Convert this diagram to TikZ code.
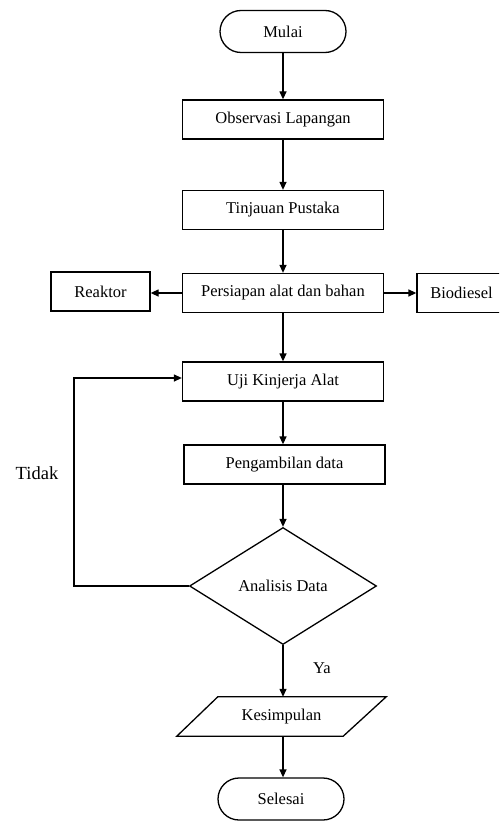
\documentclass[tikz,border=0pt]{standalone}
\usepackage{fontspec}
\setmainfont{Liberation Serif}
\newfontfamily\tnr{Liberation Serif}
\usetikzlibrary{arrows.meta,shapes.geometric}
\begin{document}
\begin{tikzpicture}[x=1pt,y=-1pt,
  every node/.style={font=\tnr\fontsize{16.5}{18}\selectfont},
  box/.style={draw,line width=1.3pt,minimum width=201pt,minimum height=39pt,inner sep=0pt},
  term/.style={draw,line width=1.3pt,rounded corners=21pt,minimum width=126pt,minimum height=42pt,inner sep=0pt},
  arr/.style={line width=1.3pt,-{Triangle[length=8pt,width=7pt]}},
  ln/.style={line width=1.3pt}]
\useasboundingbox (0,0) rectangle (499,821);
\clip (0,0) rectangle (499,821);
\node[term] (mulai) at (283,31.5) {Mulai};
\node[box] (obs) at (283,119.5) {Observasi Lapangan};
\node[box] (tin) at (283,210) {Tinjauan Pustaka};
\node[box] (per) at (283,293) {Persiapan alat dan bahan};
\node[box,minimum width=99pt] (rea) at (100.5,291.5) {Reaktor};
\node[box,minimum width=89pt] (bio) at (461.5,293) {Biodiesel};
\node[box] (uji) at (283,381.5) {Uji Kinjerja Alat};
\node[box] (peng) at (284.5,464.5) {Pengambilan data};
\node[diamond,draw,line width=1.3pt,aspect=1.6,minimum width=187pt,minimum height=117pt,inner sep=0pt] (ana) at (283,586) {Analisis Data};
\node[minimum width=209pt,minimum height=39pt,inner sep=0pt] (kes) at (281.5,716.5) {Kesimpulan};
\draw[ln] ([xshift=41pt]kes.north west) -- (kes.north east) -- ([xshift=-43pt]kes.south east) -- (kes.south west) -- cycle;
\node[term] (sel) at (281,799) {Selesai};
\node (ya) at (322,668) {Ya};
\node[font=\tnr\fontsize{18.5}{20}\selectfont] (tidak) at (37,473) {Tidak};
\coordinate (lp) at (74,586);
\draw[arr] (mulai.south -| obs.north) -- (obs.north);
\draw[arr] (obs) -- (tin);
\draw[arr] (tin) -- (per);
\draw[arr] (per.west) -- (per.west -| rea.east);
\draw[arr] (per.east) -- (per.east -| bio.west);
\draw[arr] (per) -- (uji);
\draw[arr] (uji.south) -- (uji.south |- peng.north);
\draw[arr] (uji.south |- peng.south) -- (ana.north);
\draw[arr] (ana.south) -- (ana.south |- kes.north);
\draw[arr] (ana.south |- kes.south) -- (ana.south |- sel.north);
\draw[arr] (ana.west) -- (lp) |- ([yshift=3.5pt]uji.west);
\end{tikzpicture}
\end{document}
